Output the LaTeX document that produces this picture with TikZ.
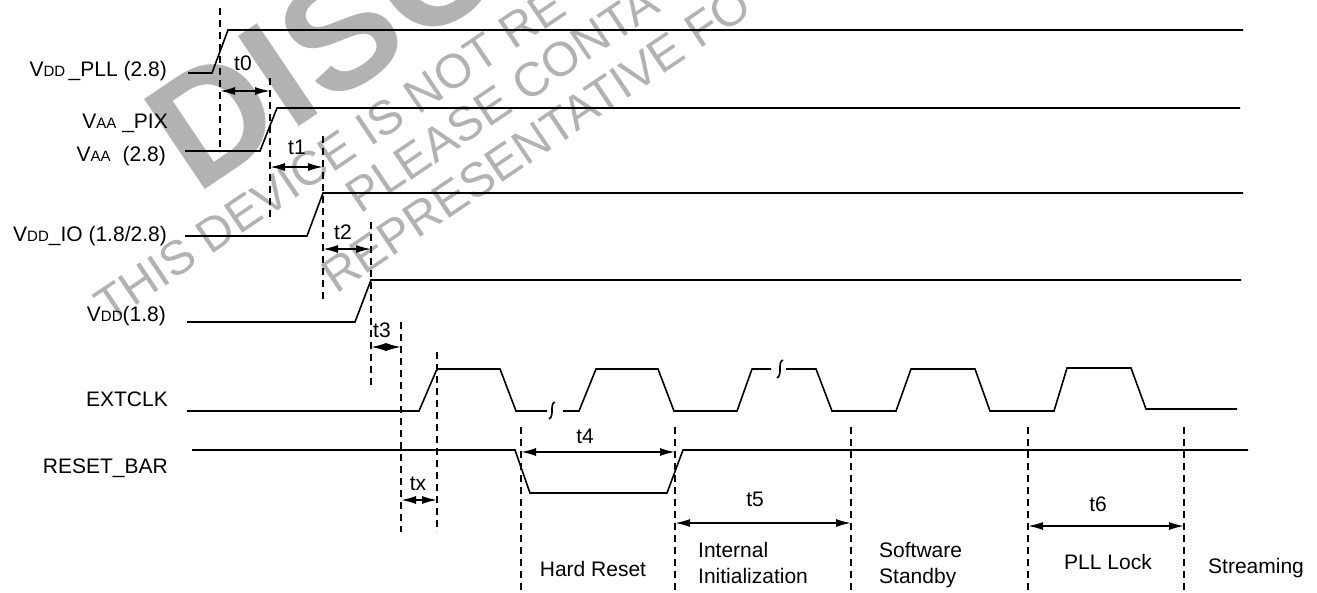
\documentclass[tikz,border=0pt]{standalone}
\usepackage{fontspec}
\setmainfont{Liberation Sans}
\usetikzlibrary{arrows.meta}
\newcommand{\lowcaps}[1]{{\fontsize{15}{15}\selectfont #1}}

\begin{document}
\begin{tikzpicture}[x=1pt, y=-1pt, font=\fontsize{21}{26}\selectfont,
	>={Latex[length=15pt,width=8pt]},
	sig/.style={line width=1.6pt},
	marker/.style={line width=1.6pt, dash pattern=on 7pt off 5pt},
	dim/.style={line width=1.6pt, <->},
	lbl/.style={anchor=base east, inner sep=0pt},
	tlbl/.style={anchor=base, inner sep=0pt},
	phase/.style={anchor=base west, inner sep=0pt, align=left},
	stamp/.style={text=black!30, rotate=34, anchor=base west, inner sep=0pt}]
		\useasboundingbox (0,0) rectangle (1317,592);
		
		% Watermark
		\begin{scope}
			\clip (0,0) rectangle (1317,592);
			\node[stamp, font=\fontsize{158}{158}\selectfont\bfseries] (wmbig) at (196,196) {DISCO};
			\node[stamp, font=\fontsize{48}{48}\selectfont] (wmthis) at (109,324) {THIS DEVICE IS NOT RE};
			\node[stamp, font=\fontsize{48}{48}\selectfont] (wmplease) at (360,215) {PLEASE CONTA};
			\node[stamp, font=\fontsize{48}{48}\selectfont] (wmrep) at (336,295) {REPRESENTATIVE FO};
		\end{scope}
		
		% Signal names
		\node[lbl] (npll) at (167,76) {V\lowcaps{DD}\,\_PLL (2.8)};
		\node[lbl] (npix) at (168,128) {V\lowcaps{AA}\ \_PIX};
		\node[lbl] (naa) at (166,161) {V\lowcaps{AA}\hspace{12pt}(2.8)};
		\node[lbl] (nio) at (167,241) {V\lowcaps{DD}\_IO (1.8/2.8)};
		\node[lbl] (ndd) at (166,321) {V\lowcaps{DD}(1.8)};
		\node[lbl] (nclk) at (168,406) {EXTCLK};
		\node[lbl] (nrst) at (168,473) {RESET\_BAR};
		
		% Supply ramps
		\draw[sig] (188,73) -- (212,73) -- (228,30) -- (1243,30); % VDD_PLL
		\draw[sig] (185,151) -- (260,151) -- (277,108) -- (1240,108); % VAA
		\draw[sig] (185,236) -- (307,236) -- (323,193) -- (1243,193); % VDD_IO
		\draw[sig] (187,322) -- (355,322) -- (371,280) -- (1241,280); % VDD
		
		% EXTCLK
		\draw[sig] (187,411) -- (419,411) -- (437,369) -- (500,369) -- (516,411) -- (547,411);
		\draw[sig] (555,402) .. controls (549,404) and (555,416) .. (549,419); % break
		\draw[sig] (563,411) -- (579,411) -- (596,369) -- (658,369) -- (674,411) -- (737,411) -- (752,369) -- (771,369);
		\draw[sig] (783,360) .. controls (777,362) and (783,375) .. (777,378); % break
		\draw[sig] (786,369) -- (816,369) -- (832,411) -- (896,411) -- (911,369) -- (975,369) -- (990,411)
			-- (1054,411) -- (1067,368) -- (1131,368) -- (1146,409) -- (1237,409);
		
		% RESET_BAR
		\draw[sig] (192,450) -- (515,450) -- (530,493) -- (667,493) -- (683,450) -- (1248,450);
		
		% Timing markers
		\draw[marker] (220,8) -- (220,152);
		\draw[marker] (270,78) -- (270,222);
		\draw[marker] (323,136) -- (323,300);
		\draw[marker] (371,222) -- (371,388);
		\draw[marker] (401,322) -- (401,532);
		\draw[marker] (437,352) -- (437,532);
		\draw[marker] (521,427) -- (521,592);
		\draw[marker] (675,427) -- (675,592);
		\draw[marker] (851,427) -- (851,592);
		\draw[marker] (1028,427) -- (1028,592);
		\draw[marker] (1184,427) -- (1184,592);
		
		% Intervals
		\draw[dim] (220,91) -- (270,91);
		\node[tlbl] (lt0) at (243,70) {t0};
		\draw[dim] (270,167) -- (323,167);
		\node[tlbl] (lt1) at (297,154) {t1};
		\draw[dim] (323,249) -- (371,249);
		\node[tlbl] (lt2) at (343,239) {t2};
		\draw[dim] (371,347) -- (401,347);
		\node[tlbl] (lt3) at (382,337) {t3};
		\draw[dim] (401,500) -- (437,500);
		\node[tlbl] (ltx) at (418,490) {tx};
		\draw[dim] (521,452) -- (675,452);
		\node[tlbl] (lt4) at (585,443) {t4};
		\draw[dim] (675,523) -- (851,523);
		\node[tlbl] (lt5) at (755,506) {t5};
		\draw[dim] (1028,526) -- (1184,526);
		\node[tlbl] (lt6) at (1098,511) {t6};
		
		% Phases
		\node[tlbl] (phreset) at (593,576) {Hard Reset};
		\node[phase] (phinit) at (698,583) {Internal\\Initialization};
		\node[phase] (phstby) at (879,583) {Software\\Standby};
		\node[tlbl] (phpll) at (1108,569) {PLL Lock};
		\node[phase] (phstream) at (1208,573) {Streaming};
		
	\end{tikzpicture}
\end{document}
